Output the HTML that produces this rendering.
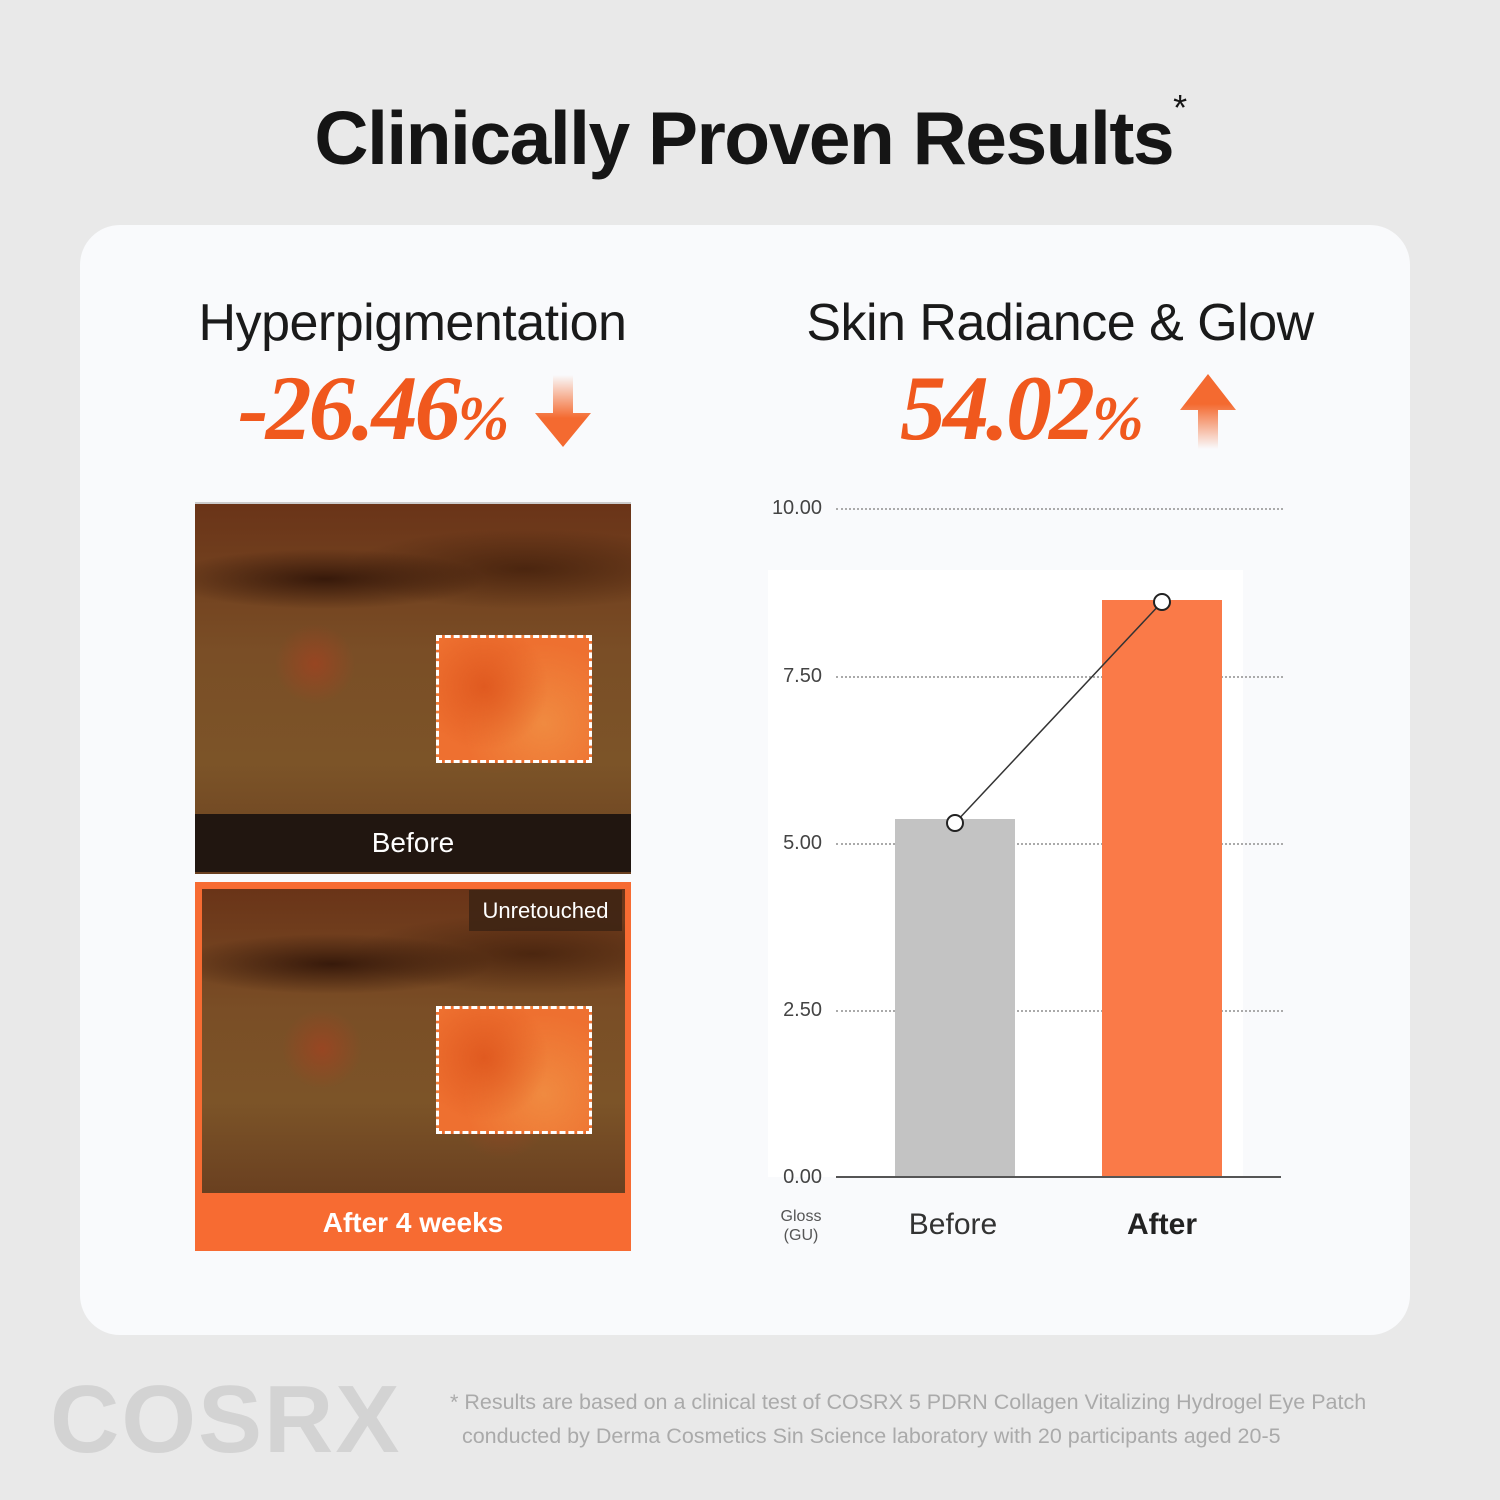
<!DOCTYPE html>
<html><head><style>
body{margin:0;width:1500px;height:1500px;background:#e9e9e9;position:relative;overflow:hidden;font-family:"Liberation Sans",sans-serif}
.a{position:absolute}
.card{left:80px;top:225px;width:1330px;height:1110px;background:#f9fafc;border-radius:40px}
.ttl{left:0;width:1500px;top:95px;text-align:center;font-size:75px;font-weight:bold;color:#151515;letter-spacing:-1.5px}
.h2{font-size:52px;color:#1a1a1a;text-align:center;letter-spacing:-0.5px}
.pct{font-family:"Liberation Serif",serif;font-style:italic;font-weight:bold;color:#f0581d;font-size:92px;white-space:nowrap;letter-spacing:-3px}
.pct small{font-size:62px}
.img{background:
radial-gradient(ellipse 160px 30px at 130px 75px,rgba(40,15,5,.8),transparent),
radial-gradient(ellipse 180px 40px at 330px 65px,rgba(50,20,5,.6),transparent),
radial-gradient(circle 40px at 120px 160px,rgba(180,60,30,.5),transparent),
radial-gradient(circle 50px at 300px 220px,rgba(180,60,30,.4),transparent),
linear-gradient(#6a3418,#7a4e26 40%,#7c5428 70%,#6a4020);}
.box{border:3px dashed #fff;background:radial-gradient(circle at 30% 40%,#e05a20,transparent 50%),radial-gradient(circle at 70% 70%,#f08a40,transparent 60%),#ee7030}
.yl{font-size:20px;color:#444;width:70px;text-align:right}
.dot{height:0;border-top:2px dotted #aaa}
</style></head><body>
<div class="a ttl">Clinically Proven Results<span style="font-size:36px;font-weight:normal;vertical-align:top;position:relative;top:-8px">*</span></div>
<div class="a card"></div>
<div class="a h2" style="left:150px;width:525px;top:293px">Hyperpigmentation</div>
<div class="a h2" style="left:780px;width:560px;top:293px">Skin Radiance &amp; Glow</div>
<div class="a pct" style="left:238px;top:355px">-26.46<small>%</small></div>
<svg class="a" style="left:535px;top:375px" width="56" height="75"><defs><linearGradient id="g1" x1="0" y1="0" x2="0" y2="1"><stop offset="0" stop-color="#f46a30" stop-opacity="0"/><stop offset=".6" stop-color="#f46a30"/></linearGradient></defs><path d="M18 0h20v38h18L28 72 0 38h18z" fill="url(#g1)"/></svg>
<div class="a pct" style="left:900px;top:355px">54.02<small>%</small></div>
<svg class="a" style="left:1180px;top:374px" width="56" height="75"><defs><linearGradient id="g2" x1="0" y1="1" x2="0" y2="0"><stop offset="0" stop-color="#f46a30" stop-opacity="0"/><stop offset=".6" stop-color="#f46a30"/></linearGradient></defs><path d="M18 75h20V36h18L28 0 0 36h18z" fill="url(#g2)"/></svg>

<div class="a img" style="left:195px;top:502px;width:436px;height:370px;border-top:2px solid #ccc"></div>
<div class="a box" style="left:436px;top:635px;width:150px;height:122px"></div>
<div class="a" style="left:195px;top:814px;width:436px;height:58px;background:#211610;color:#fff;font-size:28px;text-align:center;line-height:58px">Before</div>
<div class="a" style="left:195px;top:882px;width:436px;height:369px;background:#f76b32"></div>
<div class="a img" style="left:202px;top:889px;width:423px;height:304px"></div>
<div class="a box" style="left:436px;top:1006px;width:150px;height:122px"></div>
<div class="a" style="left:469px;top:890px;width:153px;height:41px;background:rgba(60,35,20,.85);color:#fff;font-size:22px;text-align:center;line-height:41px">Unretouched</div>
<div class="a" style="left:195px;top:1195px;width:436px;height:56px;color:#fff;font-size:28px;font-weight:bold;text-align:center;line-height:56px">After 4 weeks</div>

<div class="a" style="left:768px;top:570px;width:475px;height:607px;background:#fff"></div>
<div class="a dot" style="left:836px;top:508px;width:447px"></div>
<div class="a dot" style="left:836px;top:676px;width:447px"></div>
<div class="a dot" style="left:836px;top:843px;width:447px"></div>
<div class="a dot" style="left:836px;top:1010px;width:447px"></div>
<div class="a yl" style="left:752px;top:497px">10.00</div>
<div class="a yl" style="left:752px;top:665px">7.50</div>
<div class="a yl" style="left:752px;top:832px">5.00</div>
<div class="a yl" style="left:752px;top:999px">2.50</div>
<div class="a yl" style="left:752px;top:1166px">0.00</div>
<div class="a" style="left:895px;top:819px;width:120px;height:358px;background:#c3c3c3"></div>
<div class="a" style="left:1102px;top:600px;width:120px;height:577px;background:#fa7a48"></div>
<div class="a" style="left:836px;top:1176px;width:445px;height:2px;background:#555"></div>
<svg class="a" style="left:0;top:0" width="1500" height="1500"><line x1="955" y1="823" x2="1162" y2="602" stroke="#333" stroke-width="1.5"/><circle cx="955" cy="823" r="8" fill="#fff" stroke="#222" stroke-width="2"/><circle cx="1162" cy="602" r="8" fill="#fff" stroke="#222" stroke-width="2"/></svg>
<div class="a" style="left:766px;top:1207px;width:70px;text-align:center;font-size:16px;color:#555;line-height:19px">Gloss<br>(GU)</div>
<div class="a" style="left:853px;top:1208px;width:200px;text-align:center;font-size:30px;color:#333">Before</div>
<div class="a" style="left:1062px;top:1208px;width:200px;text-align:center;font-size:30px;color:#222;font-weight:bold">After</div>

<div class="a" style="left:50px;top:1365px;font-size:96px;color:#d3d3d3;letter-spacing:2px;font-weight:bold">COSRX</div>
<div class="a" style="left:450px;top:1385px;font-size:21.5px;color:#aaa;line-height:34px">* Results are based on a clinical test of COSRX 5 PDRN Collagen Vitalizing Hydrogel Eye Patch<br>&nbsp;&nbsp;conducted by Derma Cosmetics Sin Science laboratory with 20 participants aged 20-5</div>
</body></html>
